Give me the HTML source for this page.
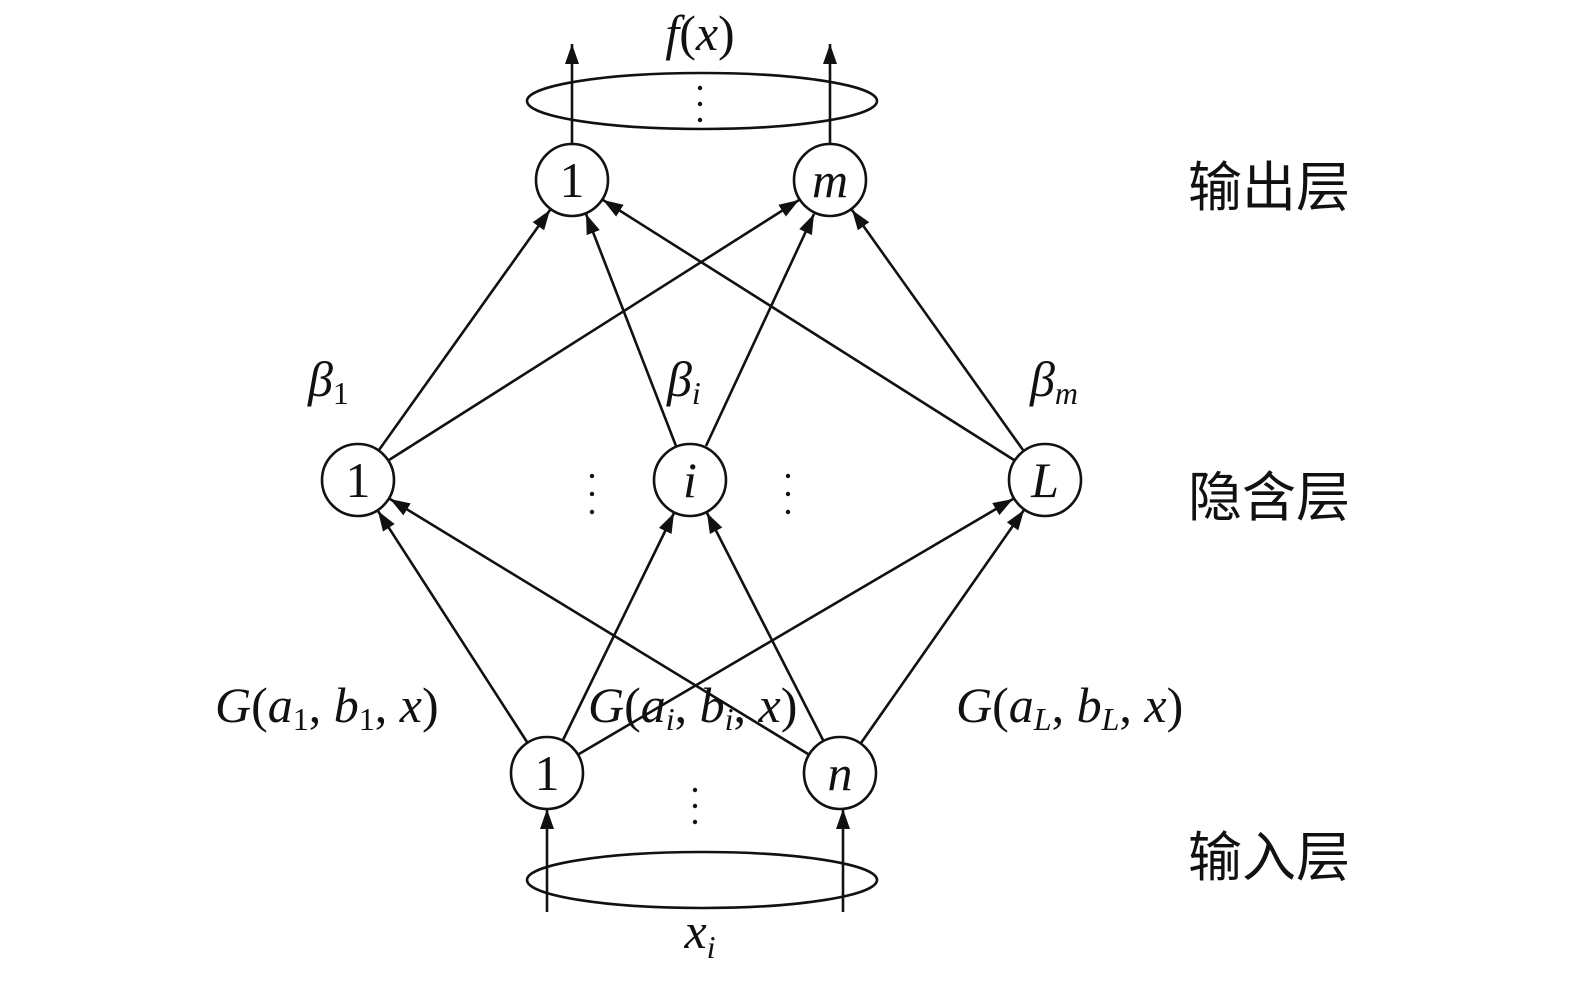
<!DOCTYPE html>
<html><head><meta charset="utf-8"><style>
html,body{margin:0;padding:0;background:#fff;}
svg{display:block;}
text{font-family:"Liberation Serif","Noto Serif CJK SC",serif;fill:#111;}
.cn{font-family:"Liberation Sans","Noto Sans CJK SC",sans-serif;font-size:54px;}
.it{font-style:italic;}
</style></head><body>
<svg width="1575" height="981" viewBox="0 0 1575 981" xmlns="http://www.w3.org/2000/svg">
<defs>
<marker id="a" markerUnits="userSpaceOnUse" markerWidth="22" markerHeight="14" refX="20" refY="7" orient="auto">
<path d="M0,0 L20,7 L0,14 Z" fill="#111"/>
</marker>
</defs>
<g stroke="#111" stroke-width="2.6" fill="none">
<ellipse cx="702" cy="101" rx="175" ry="28"/>
<ellipse cx="702" cy="880" rx="175" ry="28"/>
<circle cx="572" cy="180" r="36"/>
<circle cx="830" cy="180" r="36"/>
<circle cx="358" cy="480" r="36"/>
<circle cx="690" cy="480" r="36"/>
<circle cx="1045" cy="480" r="36"/>
<circle cx="547" cy="773" r="36"/>
<circle cx="840" cy="773" r="36"/>
<g marker-end="url(#a)">
<line x1="572" y1="144" x2="572" y2="44"/>
<line x1="830" y1="144" x2="830" y2="44"/>
<line x1="547" y1="912" x2="547" y2="809"/>
<line x1="843" y1="912" x2="843" y2="809"/>
<line x1="527" y1="742" x2="378" y2="511"/>
<line x1="563" y1="740" x2="674" y2="513"/>
<line x1="579" y1="754" x2="1013" y2="499"/>
<line x1="808" y1="754" x2="390" y2="499"/>
<line x1="823" y1="740" x2="707" y2="513"/>
<line x1="861" y1="743" x2="1024" y2="510"/>
<line x1="379" y1="450" x2="550" y2="210"/>
<line x1="389" y1="460" x2="799" y2="200"/>
<line x1="676" y1="446" x2="586" y2="214"/>
<line x1="706" y1="446" x2="814" y2="214"/>
<line x1="1014" y1="460" x2="603" y2="200"/>
<line x1="1023" y1="450" x2="852" y2="210"/>
</g>
</g>
<g fill="#111">
<circle cx="700" cy="88" r="2.2"/><circle cx="700" cy="104" r="2.2"/><circle cx="700" cy="120" r="2.2"/>
<circle cx="592" cy="476" r="2.2"/><circle cx="592" cy="494" r="2.2"/><circle cx="592" cy="512" r="2.2"/>
<circle cx="788" cy="476" r="2.2"/><circle cx="788" cy="494" r="2.2"/><circle cx="788" cy="512" r="2.2"/>
<circle cx="695" cy="790" r="2.2"/><circle cx="695" cy="806" r="2.2"/><circle cx="695" cy="822" r="2.2"/>
</g>
<g font-size="50" text-anchor="middle">
<text x="572" y="197">1</text>
<text x="830" y="197" class="it">m</text>
<text x="358" y="497">1</text>
<text x="690" y="497" class="it">i</text>
<text x="1045" y="497" class="it">L</text>
<text x="547" y="790">1</text>
<text x="840" y="790" class="it">n</text>
<text x="700" y="50"><tspan class="it">f</tspan>(<tspan class="it">x</tspan>)</text>
<text x="700" y="948"><tspan class="it">x</tspan><tspan font-size="32" class="it" dy="10">i</tspan></text>
</g>
<g font-size="50">
<text x="308" y="396"><tspan class="it">β</tspan><tspan font-size="32" dy="8">1</tspan></text>
<text x="667" y="396"><tspan class="it">β</tspan><tspan font-size="32" dy="8" class="it">i</tspan></text>
<text x="1030" y="396"><tspan class="it">β</tspan><tspan font-size="32" dy="8" class="it">m</tspan></text>
<text x="215" y="722"><tspan class="it">G</tspan>(<tspan class="it">a</tspan><tspan font-size="32" dy="8">1</tspan><tspan dy="-8">, </tspan><tspan class="it">b</tspan><tspan font-size="32" dy="8">1</tspan><tspan dy="-8">, </tspan><tspan class="it">x</tspan>)</text>
<text x="588" y="722"><tspan class="it">G</tspan>(<tspan class="it">a</tspan><tspan font-size="32" dy="8" class="it">i</tspan><tspan dy="-8">, </tspan><tspan class="it">b</tspan><tspan font-size="32" dy="8" class="it">i</tspan><tspan dy="-8">, </tspan><tspan class="it">x</tspan>)</text>
<text x="956" y="722"><tspan class="it">G</tspan>(<tspan class="it">a</tspan><tspan font-size="32" dy="8" class="it">L</tspan><tspan dy="-8">, </tspan><tspan class="it">b</tspan><tspan font-size="32" dy="8" class="it">L</tspan><tspan dy="-8">, </tspan><tspan class="it">x</tspan>)</text>
</g>
<text class="cn" x="1188" y="206">输出层</text>
<text class="cn" x="1188" y="516">隐含层</text>
<text class="cn" x="1188" y="876">输入层</text>
</svg>
</body></html>
